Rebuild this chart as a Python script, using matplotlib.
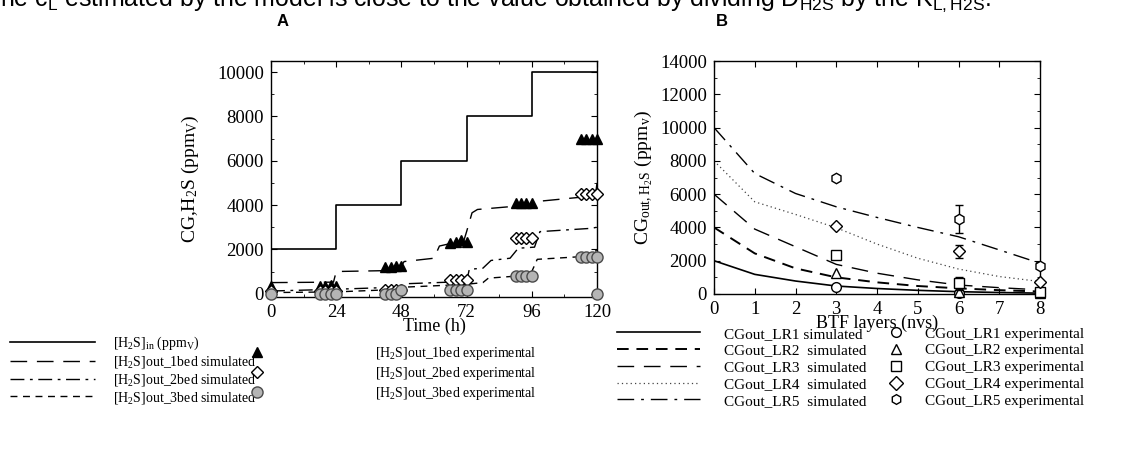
import matplotlib
matplotlib.use("Agg")
import matplotlib.pyplot as plt
from matplotlib.lines import Line2D
from matplotlib.ticker import MultipleLocator

W, H = 1127, 450
SERIF = "Liberation Serif"
SANS = "Liberation Sans"
plt.rcParams["font.family"] = SERIF
plt.rcParams["mathtext.fontset"] = "custom"
plt.rcParams["mathtext.rm"] = SERIF

# ---- panel A data ----
t_in = [0, 24, 48, 72, 96, 120]
h2s_in = [2000, 4000, 6000, 8000, 10000, 10000]

t_1bed = [0, 23, 24, 47, 49, 60, 62, 71, 72, 74, 76, 95, 97, 118, 119.5, 120]
sim_1bed = [500, 520, 1000, 1050, 1450, 1600, 2150, 2400, 2800, 3650, 3800, 4000, 4150, 4400, 4500, 5000]
t_2bed = [0, 24, 48, 50, 72, 73, 78, 81, 88, 91, 97, 99, 118, 120]
sim_2bed = [120, 200, 300, 450, 550, 1100, 1150, 1500, 1600, 2050, 2100, 2800, 2950, 3000]
t_3bed = [0, 24, 48, 50, 72, 74, 78, 80, 91, 96, 98, 118, 120]
sim_3bed = [50, 80, 200, 300, 420, 450, 500, 700, 800, 1000, 1550, 1700, 2000]

t_tri = [0, 18, 20, 22, 24, 42, 44, 46, 48, 66, 68, 70, 72, 90, 92, 94, 96, 114, 116, 118, 120]
exp_1bed = [350, 350, 350, 400, 350, 1200, 1200, 1250, 1250, 2300, 2350, 2400, 2350,
            4100, 4100, 4100, 4100, 7000, 7000, 7000, 7000]
t_dia = [0, 18, 20, 22, 24, 42, 44, 46, 48, 66, 68, 70, 72, 90, 92, 94, 96, 114, 116, 118, 120]
exp_2bed = [100, 100, 100, 100, 100, 150, 150, 150, 150, 600, 600, 600, 600,
            2500, 2500, 2500, 2500, 4500, 4500, 4500, 4500]
t_cir = [0, 18, 20, 22, 24, 42, 44, 46, 48, 66, 68, 70, 72, 90, 92, 94, 96, 114, 116, 118, 120, 120]
exp_3bed = [0, 0, 0, 0, 0, 0, 0, 0, 150, 150, 150, 150, 150,
            800, 800, 800, 800, 1650, 1650, 1650, 1650, 0]

# ---- panel B data ----
layers = [0, 1, 2, 3, 4, 5, 6, 7, 8]
sim_lr1 = [2000, 1180, 780, 480, 330, 220, 140, 90, 50]
sim_lr2 = [4000, 2440, 1540, 1000, 700, 480, 340, 230, 150]
sim_lr3 = [6000, 3900, 2840, 1780, 1250, 850, 540, 380, 250]
sim_lr4 = [8000, 5540, 4780, 3980, 3000, 2150, 1500, 1050, 750]
sim_lr5 = [10000, 7240, 6040, 5240, 4600, 4000, 3440, 2650, 1850]

exp_layers = [3, 6, 8]
exp_lr1 = [400, 40, 50]
exp_lr2 = [1280, 100, 60]
exp_lr3 = [2320, 640, 140]
exp_lr4 = [4080, 2560, 740]
exp_lr5 = [7000, 4500, 1700]
err_lr3 = [0, 400, 0]
err_lr4 = [0, 400, 0]
err_lr5 = [0, 850, 0]

fig = plt.figure(figsize=(W / 100, H / 100), dpi=100)

# clipped caption line at the very top
fig.text(0.0, 1 - 6 / H,
         r"he c$\mathregular{_L}$ estimated by the model is close to the value obtained by dividing "
         r"D$\mathregular{_{H2S}}$ by the K$\mathregular{_{L,H2S}}$.",
         family=SANS, fontsize=17.9, va="baseline", ha="left")
fig.text(283 / W, 1 - 22 / H, "A", family=SANS, weight="bold", fontsize=12, ha="center", va="center")
fig.text(722 / W, 1 - 22 / H, "B", family=SANS, weight="bold", fontsize=12, ha="center", va="center")

axA = fig.add_axes([271 / W, 1 - 297 / H, 326 / W, 236 / H])
axB = fig.add_axes([714 / W, 1 - 294 / H, 326 / W, 233 / H])

sty_in = dict(color="black", lw=1.2, ls="-")
sty_1 = dict(color="black", lw=1.0, ls=(0, (12, 7)))
sty_2 = dict(color="black", lw=1.0, ls=(0, (10, 4, 2, 4)))
sty_3 = dict(color="black", lw=1.0, ls=(0, (5, 4)))
mk_tri = dict(marker="^", ms=7, mfc="black", mec="black", ls="none")
mk_dia = dict(marker="D", ms=6.5, mfc="white", mec="black", mew=1.0, ls="none")
mk_cir = dict(marker="o", ms=8, mfc="#b5b5b5", mec="#4a4a4a", mew=1.0, ls="none")

axA.step(t_in, h2s_in, where="post", **sty_in)
axA.plot(t_1bed, sim_1bed, **sty_1)
axA.plot(t_2bed, sim_2bed, **sty_2)
axA.plot(t_3bed, sim_3bed, **sty_3)
axA.plot(t_tri, exp_1bed, clip_on=False, zorder=4, **mk_tri)
axA.plot(t_dia, exp_2bed, clip_on=False, zorder=4, **mk_dia)
axA.plot(t_cir, exp_3bed, clip_on=False, zorder=5, **mk_cir)

axA.set_xlim(0, 120)
axA.set_ylim(-150, 10500)
axA.xaxis.set_major_locator(MultipleLocator(24))
axA.xaxis.set_minor_locator(MultipleLocator(12))
axA.yaxis.set_major_locator(MultipleLocator(2000))
axA.yaxis.set_minor_locator(MultipleLocator(1000))
axA.set_xlabel("Time (h)", fontsize=13, labelpad=-2)
axA.set_ylabel(r"CG,H$\mathregular{_2}$S (ppm$\mathregular{_V}$)", fontsize=14, labelpad=12)

sty_lr1 = dict(color="black", lw=1.2, ls="-")
sty_lr2 = dict(color="black", lw=1.4, ls=(0, (6, 4)))
sty_lr3 = dict(color="black", lw=1.0, ls=(0, (12, 7)))
sty_lr4 = dict(color="#444444", lw=0.9, ls=(0, (1, 2.5)))
sty_lr5 = dict(color="black", lw=1.0, ls=(0, (12, 5, 2, 5)))
mk_open = dict(ms=7, mfc="white", mec="black", mew=1.0, ls="none")

axB.plot(layers, sim_lr1, **sty_lr1)
axB.plot(layers, sim_lr2, **sty_lr2)
axB.plot(layers, sim_lr3, **sty_lr3)
axB.plot(layers, sim_lr4, **sty_lr4)
axB.plot(layers, sim_lr5, **sty_lr5)
axB.plot(exp_layers, exp_lr1, marker="o", clip_on=False, zorder=4, **mk_open)
axB.plot(exp_layers, exp_lr2, marker="^", clip_on=False, zorder=4, **mk_open)
axB.errorbar(exp_layers, exp_lr3, yerr=err_lr3, fmt="s", color="black", capsize=3, elinewidth=1,
             clip_on=False, zorder=4, ms=6.5, mfc="white", mec="black", mew=1.0)
axB.errorbar(exp_layers, exp_lr4, yerr=err_lr4, fmt="D", color="black", capsize=3, elinewidth=1,
             clip_on=False, zorder=4, ms=6.5, mfc="white", mec="black", mew=1.0)
axB.errorbar(exp_layers, exp_lr5, yerr=err_lr5, fmt="h", color="black", capsize=3, elinewidth=1,
             clip_on=False, zorder=4, ms=7.5, mfc="white", mec="black", mew=1.0)

axB.set_xlim(0, 8)
axB.set_ylim(0, 14000)
axB.xaxis.set_major_locator(MultipleLocator(1))
axB.yaxis.set_major_locator(MultipleLocator(2000))
axB.yaxis.set_minor_locator(MultipleLocator(1000))
axB.set_xlabel("BTF layers (nvs)", fontsize=13, labelpad=-2)
axB.set_ylabel(r"CG$\mathregular{_{out,H_2S}}$ (ppm$\mathregular{_v}$)", fontsize=14, labelpad=4)

for ax in (axA, axB):
    ax.tick_params(which="both", direction="in", top=True, right=True, labelsize=13.5)
    ax.tick_params(axis="x", pad=5)
    ax.tick_params(axis="y", pad=5)
    ax.tick_params(which="major", length=4)
    ax.tick_params(which="minor", length=2)
    for sp in ax.spines.values():
        sp.set_linewidth(1.0)

# ---- legends ----
leg_kw = dict(frameon=False, borderpad=0, borderaxespad=0, loc="upper left")

hA_lines = [Line2D([], [], **sty_in), Line2D([], [], **sty_1),
            Line2D([], [], **sty_2), Line2D([], [], **sty_3)]
lA_lines = [r"[H$\mathregular{_2}$S]$\mathregular{_{in}}$ (ppm$\mathregular{_V}$)",
            r"[H$\mathregular{_2}$S]out_1bed simulated",
            r"[H$\mathregular{_2}$S]out_2bed simulated",
            r"[H$\mathregular{_2}$S]out_3bed simulated"]
fig.legend(hA_lines, lA_lines, bbox_to_anchor=(10 / W, 1 - 335 / H), fontsize=10,
           handlelength=6.1, handletextpad=1.3, labelspacing=0.13, **leg_kw)

hA_marks = [Line2D([], [], **mk_tri), Line2D([], [], **mk_dia), Line2D([], [], **mk_cir)]
lA_marks = [r"[H$\mathregular{_2}$S]out_1bed experimental",
            r"[H$\mathregular{_2}$S]out_2bed experimental",
            r"[H$\mathregular{_2}$S]out_3bed experimental"]
fig.legend(hA_marks, lA_marks, bbox_to_anchor=(250 / W, 1 - 345 / H), fontsize=10,
           handlelength=1.0, handletextpad=8.0, labelspacing=0.2, **leg_kw)

hB_lines = [Line2D([], [], **sty_lr1), Line2D([], [], **sty_lr2), Line2D([], [], **sty_lr3),
            Line2D([], [], **sty_lr4), Line2D([], [], **sty_lr5)]
lB_lines = ["CGout_LR1 simulated", "CGout_LR2  simulated", "CGout_LR3  simulated",
            "CGout_LR4  simulated", "CGout_LR5  simulated"]
fig.legend(hB_lines, lB_lines, bbox_to_anchor=(617 / W, 1 - 327 / H), fontsize=11,
           handlelength=5.4, handletextpad=1.6, labelspacing=0.2, **leg_kw)

hB_marks = [Line2D([], [], marker=m, **mk_open) for m in ("o", "^", "s", "D", "h")]
lB_marks = ["CGout_LR1 experimental", "CGout_LR2 experimental", "CGout_LR3 experimental",
            "CGout_LR4 experimental", "CGout_LR5 experimental"]
fig.legend(hB_marks, lB_marks, bbox_to_anchor=(888 / W, 1 - 327 / H), fontsize=11,
           handlelength=1.0, handletextpad=1.4, labelspacing=0.2, **leg_kw)

fig.savefig("out.png", dpi=100)
